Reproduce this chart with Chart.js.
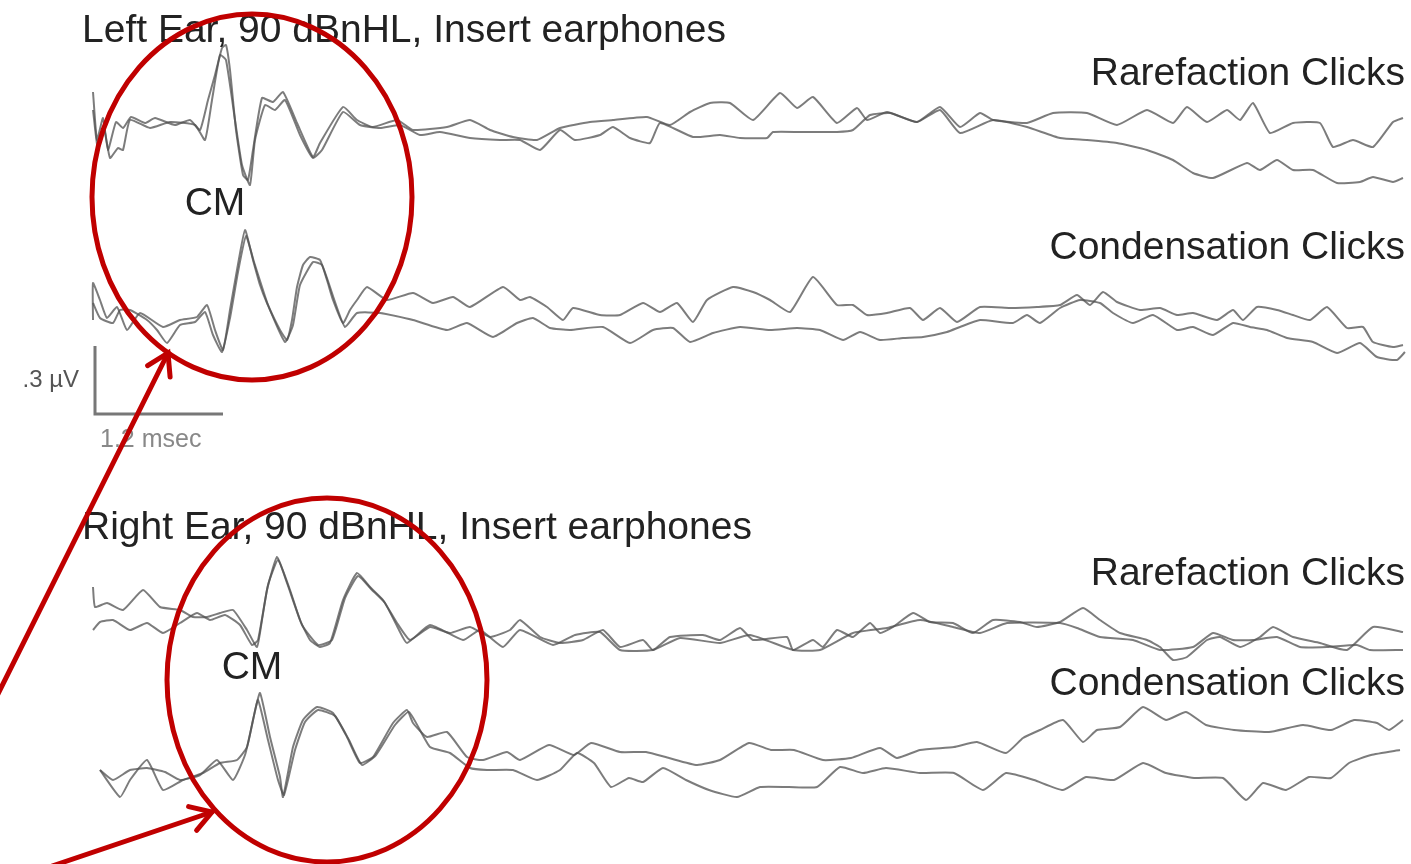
<!DOCTYPE html>
<html>
<head>
<meta charset="utf-8">
<script src="https://cdn.jsdelivr.net/npm/chart.js@4.4.1/dist/chart.umd.min.js"></script>
<style>
  html, body { margin: 0; background: #fff; }
  canvas { display: block; }
</style>
</head>
<body>
<canvas id="abr" width="1411" height="864"></canvas>
<script>
// ===============================
// Traces (picture units: x = time axis, y = stacked amplitude)
// ===============================
const leftRare1 = [[93,92],[97,140],[103,118],[108,150],[116,122],[123,128],[131,117],[145,123],[155,118],[175,125],[190,120],[200,130],[208,100],[215,75],[222,48],[226,45],[230,70],[236,130],[243,175],[248,180],[253,150],[262,98],[273,102],[283,92],[297,123],[313,157],[320,143],[343,107],[357,120],[373,127],[397,120],[413,130],[447,127],[470,120],[490,130],[513,137],[537,140],[560,128],[590,122],[613,120],[647,117],[670,125],[690,112],[710,103],[730,103],[753,120],[780,93],[797,108],[813,97],[837,123],[857,108],[867,120],[887,112],[917,122],[940,107],[960,127],[980,113],[993,120],[1027,123],[1053,113],[1087,113],[1117,125],[1147,110],[1173,123],[1187,107],[1207,122],[1227,110],[1240,120],[1253,103],[1270,133],[1293,123],[1320,123],[1333,147],[1353,140],[1373,147],[1393,122],[1403,118]];
const leftRare2 = [[93,110],[98,150],[104,128],[110,158],[118,148],[123,150],[130,120],[150,128],[170,122],[195,125],[205,140],[212,100],[220,55],[226,60],[235,120],[242,165],[250,185],[255,140],[265,105],[275,110],[285,100],[300,135],[313,158],[322,150],[343,112],[360,125],[380,128],[400,125],[420,135],[440,132],[470,138],[500,140],[520,140],[540,150],[560,130],[575,140],[600,135],[613,127],[630,138],[650,143],[660,123],[693,137],[720,135],[740,138],[767,138],[773,132],[800,132],[837,132],[853,130],[870,115],[890,113],[917,122],[940,110],[960,133],[993,120],[1027,127],[1060,138],[1087,140],[1117,143],[1147,150],[1173,160],[1193,173],[1213,178],[1247,163],[1260,170],[1277,160],[1293,170],[1313,170],[1337,183],[1360,182],[1373,177],[1393,182],[1403,178]];

const leftCond1 = [[93,320],[93,283],[100,300],[107,318],[117,307],[127,330],[140,313],[163,327],[180,320],[197,317],[207,305],[215,330],[223,350],[230,310],[237,270],[245,230],[253,260],[260,285],[267,303],[280,330],[287,340],[292,320],[297,287],[303,265],[310,257],[320,260],[327,280],[333,300],[343,323],[350,310],[357,300],[367,287],[387,300],[413,293],[433,303],[453,297],[470,307],[503,287],[520,300],[530,297],[547,307],[563,320],[573,308],[600,315],[620,315],[643,303],[660,312],[677,303],[693,322],[707,300],[733,287],[753,292],[770,300],[790,312],[813,277],[837,305],[853,305],[867,315],[887,313],[910,308],[923,320],[940,308],[957,322],[980,307],[1010,308],[1037,307],[1060,305],[1077,295],[1090,305],[1103,292],[1117,302],[1140,310],[1160,308],[1177,315],[1193,313],[1217,320],[1233,310],[1243,320],[1257,307],[1277,310],[1293,315],[1310,320],[1327,307],[1347,328],[1363,327],[1373,342],[1393,347],[1403,345]];
const leftCond2 = [[93,303],[100,318],[113,323],[120,310],[130,310],[147,320],[157,330],[167,343],[180,325],[195,322],[205,312],[213,335],[222,352],[230,318],[238,272],[246,236],[254,262],[268,305],[285,342],[293,325],[300,285],[313,262],[322,265],[335,302],[345,327],[357,313],[380,313],[413,320],[447,330],[467,323],[493,337],[517,323],[533,318],[550,328],[570,330],[603,327],[630,343],[653,330],[673,328],[690,342],[713,333],[740,327],[770,330],[797,328],[820,330],[843,340],[860,332],[880,340],[903,338],[923,337],[947,332],[960,327],[980,320],[1013,323],[1027,315],[1040,323],[1060,308],[1080,300],[1100,303],[1113,313],[1133,323],[1153,315],[1177,330],[1193,327],[1213,335],[1233,323],[1250,327],[1267,330],[1287,338],[1313,342],[1337,353],[1360,343],[1377,357],[1397,360],[1405,352]];

const rightRare1 = [[93,587],[95,607],[107,603],[123,610],[143,590],[160,607],[180,610],[193,617],[207,617],[220,613],[233,610],[247,630],[257,647],[262,620],[267,590],[277,557],[287,583],[300,620],[310,640],[320,647],[330,643],[343,600],[357,573],[370,587],[383,600],[397,623],[410,640],[430,627],[450,633],[470,627],[490,637],[510,630],[520,620],[540,637],[560,643],[583,640],[603,630],[620,647],[643,640],[653,650],[670,637],[703,635],[720,640],[740,628],[753,640],[787,637],[793,650],[813,640],[823,647],[837,630],[853,637],[870,623],[880,633],[893,627],[913,613],[930,622],[953,623],[973,633],[993,620],[1020,622],[1037,627],[1060,622],[1083,608],[1100,620],[1120,633],[1147,640],[1160,647],[1173,660],[1187,657],[1207,640],[1220,637],[1240,647],[1260,637],[1273,627],[1293,637],[1320,643],[1347,650],[1373,627],[1403,632]];
const rightRare2 = [[93,630],[100,622],[113,620],[130,630],[147,623],[163,633],[180,623],[197,613],[210,620],[225,615],[240,625],[252,645],[258,640],[268,585],[278,560],[290,590],[302,625],[318,645],[332,640],[345,598],[358,576],[372,590],[385,603],[398,628],[407,643],[430,625],[463,640],[480,630],[503,647],[520,630],[553,645],[575,635],[600,632],[620,650],[653,650],[680,638],[720,643],[750,635],[793,650],[820,650],[853,633],[887,628],[920,620],[953,627],[980,633],[1007,623],[1060,623],[1077,628],[1100,637],[1133,640],[1160,650],[1193,647],[1213,633],[1233,640],[1253,640],[1277,637],[1300,647],[1327,647],[1357,645],[1370,650],[1403,650]];

const rightCond1 = [[100,770],[120,797],[130,780],[147,760],[163,790],[183,780],[203,773],[220,763],[237,760],[247,747],[253,720],[260,693],[270,737],[280,777],[283,797],[293,747],[303,720],[317,707],[333,713],[347,737],[360,763],[373,757],[393,723],[407,710],[413,723],[427,737],[447,732],[467,757],[483,760],[507,752],[520,760],[549,745],[574,755],[591,743],[620,752],[646,752],[669,758],[697,765],[720,760],[749,743],[771,750],[794,750],[823,760],[851,758],[880,748],[897,758],[920,750],[954,747],[977,742],[1006,753],[1023,738],[1040,730],[1063,720],[1083,742],[1097,730],[1120,727],[1143,707],[1166,720],[1186,712],[1206,725],[1234,730],[1269,732],[1303,725],[1331,730],[1354,720],[1377,723],[1389,730],[1403,720]];
const rightCond2 = [[100,770],[113,780],[130,770],[147,768],[165,772],[180,780],[200,775],[217,760],[233,780],[245,755],[252,725],[258,700],[268,740],[278,780],[284,795],[295,750],[305,722],[318,710],[335,716],[349,740],[362,765],[376,755],[395,725],[409,712],[430,747],[450,753],[470,768],[487,770],[513,770],[537,780],[560,770],[577,753],[594,763],[611,787],[629,778],[643,782],[663,768],[686,780],[709,790],[737,797],[760,787],[789,787],[817,787],[840,767],[863,773],[886,768],[920,773],[954,773],[983,790],[1006,773],[1034,780],[1063,790],[1086,777],[1114,780],[1143,763],[1166,773],[1194,778],[1223,778],[1246,800],[1263,783],[1286,790],[1309,777],[1331,778],[1349,763],[1371,755],[1400,750]];

// labels
const panelTitles = ["Left Ear, 90 dBnHL, Insert earphones", "Right Ear, 90 dBnHL, Insert earphones"];
const clickLabels = ["Rarefaction Clicks", "Condensation Clicks"];
const cmLabel = "CM";
const scaleLabels = [".3 \u00b5V", "1.2 msec"];

// ===============================
// Annotation layout (text, scale bar, red markings)
// ===============================
const layoutNotes = {
  titles: [[82, 31], [82, 528]],
  clicks: [[1405, 74, 0], [1405, 248, 1], [1405, 574, 0], [1405, 684, 1]],
  cms: [[215, 204], [252, 668]],
  scaleBar: [[95, 346], [95, 414], [223, 414]],
  ellipses: [[252, 197, 160, 183], [327, 680, 160, 182]],
  arrows: [[-6, 702, 168, 353], [52, 866, 212, 812]]
};

function toPts(arr) {
  return arr.map(p => ({ x: p[0], y: p[1] }));
}

function traceSet(arr) {
  return {
    data: toPts(arr),
    showLine: true,
    borderColor: "rgba(80,80,80,0.75)",
    borderWidth: 2,
    pointRadius: 0,
    tension: 0.15
  };
}

const notesPlugin = {
  id: "notes",
  beforeDatasetsDraw(chart) {
    const ctx = chart.ctx;
    const sx = v => chart.scales.x.getPixelForValue(v);
    const sy = v => chart.scales.y.getPixelForValue(v);
    ctx.save();
    ctx.fillStyle = "#222";
    ctx.textBaseline = "middle";
    ctx.font = "39px 'Liberation Sans', Arial, sans-serif";
    ctx.textAlign = "left";
    layoutNotes.titles.forEach((p, i) => ctx.fillText(panelTitles[i], sx(p[0]), sy(p[1])));
    ctx.textAlign = "right";
    layoutNotes.clicks.forEach(p => ctx.fillText(clickLabels[p[2]], sx(p[0]), sy(p[1])));
    ctx.textAlign = "center";
    layoutNotes.cms.forEach(p => ctx.fillText(cmLabel, sx(p[0]), sy(p[1])));

    // scale bar
    const sb = layoutNotes.scaleBar;
    ctx.strokeStyle = "#777";
    ctx.lineWidth = 3;
    ctx.beginPath();
    ctx.moveTo(sx(sb[0][0]), sy(sb[0][1]));
    ctx.lineTo(sx(sb[1][0]), sy(sb[1][1]));
    ctx.lineTo(sx(sb[2][0]), sy(sb[2][1]));
    ctx.stroke();
    ctx.font = "24px 'Liberation Sans', Arial, sans-serif";
    ctx.fillStyle = "#555";
    ctx.textAlign = "right";
    ctx.fillText(scaleLabels[0], sx(79), sy(380));
    ctx.fillStyle = "#888";
    ctx.font = "25px 'Liberation Sans', Arial, sans-serif";
    ctx.textAlign = "left";
    ctx.fillText(scaleLabels[1], sx(100), sy(440));
    ctx.restore();
  },
  afterDatasetsDraw(chart) {
    const ctx = chart.ctx;
    const sx = v => chart.scales.x.getPixelForValue(v);
    const sy = v => chart.scales.y.getPixelForValue(v);
    ctx.save();
    ctx.strokeStyle = "#c00000";
    ctx.fillStyle = "#c00000";
    ctx.lineWidth = 5;
    layoutNotes.ellipses.forEach(e => {
      const cx = sx(e[0]), cy = sy(e[1]);
      const rx = Math.abs(sx(e[0] + e[2]) - cx), ry = Math.abs(sy(e[1] + e[3]) - cy);
      ctx.beginPath();
      ctx.ellipse(cx, cy, rx, ry, 0, 0, Math.PI * 2);
      ctx.stroke();
    });
    layoutNotes.arrows.forEach(a => {
      const x0 = sx(a[0]), y0 = sy(a[1]), x1 = sx(a[2]), y1 = sy(a[3]);
      const ang = Math.atan2(y1 - y0, x1 - x0);
      ctx.lineCap = "round";
      ctx.beginPath();
      ctx.moveTo(x0, y0);
      ctx.lineTo(x1, y1);
      ctx.stroke();
      const len = 24, spread = 0.55;
      ctx.beginPath();
      ctx.moveTo(x1 - len * Math.cos(ang - spread), y1 - len * Math.sin(ang - spread));
      ctx.lineTo(x1, y1);
      ctx.lineTo(x1 - len * Math.cos(ang + spread), y1 - len * Math.sin(ang + spread));
      ctx.stroke();
    });
    ctx.restore();
  }
};

new Chart(document.getElementById("abr"), {
  type: "scatter",
  data: {
    datasets: [leftRare1, leftRare2, leftCond1, leftCond2,
               rightRare1, rightRare2, rightCond1, rightCond2].map(traceSet)
  },
  options: {
    responsive: false,
    animation: false,
    layout: { padding: 0 },
    scales: {
      x: { type: "linear", min: 0, max: 1411, display: false },
      y: { type: "linear", min: 0, max: 864, reverse: true, display: false }
    },
    plugins: {
      legend: { display: false },
      tooltip: { enabled: false }
    }
  },
  plugins: [notesPlugin]
});
</script>
</body>
</html>
